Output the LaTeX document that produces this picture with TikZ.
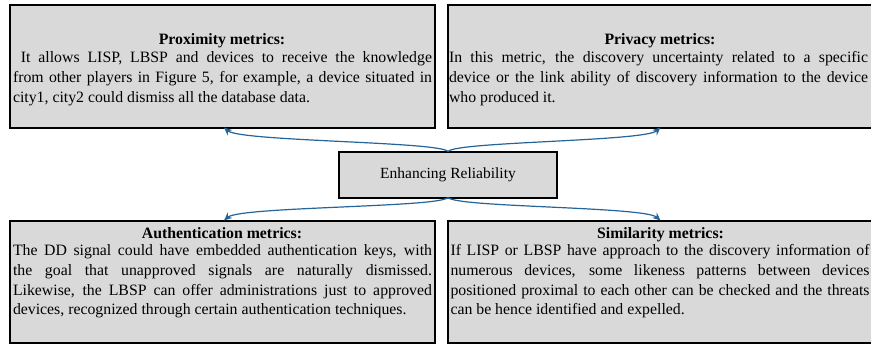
\documentclass[tikz,border=0pt]{standalone}
\usepackage{fontspec}
\setmainfont{Liberation Serif}
\usetikzlibrary{arrows.meta}
\definecolor{boxfill}{RGB}{217,217,217}
\definecolor{linkblue}{RGB}{35,100,155}
\begin{document}
\begin{tikzpicture}[x=1pt,y=-1pt,
  panel/.style={draw=black, line width=2pt, fill=boxfill, inner sep=0pt, outer sep=0pt, anchor=north west,
                minimum width=425pt, minimum height=122pt},
  head/.style={font=\fontsize{15.8}{19.7}\selectfont\bfseries, inner sep=0pt, anchor=base},
  body/.style={text width=419pt, align=justify, font=\fontsize{15.8}{19.7}\selectfont, inner sep=0pt, anchor=north},
  link/.style={draw=linkblue, line width=1.2pt, -{Stealth[length=8pt,width=7pt]}}
]
\useasboundingbox (0,0) rectangle (871,345);
\clip (0,0) rectangle (871,345);

% four metric panels
\node[panel] (prox) at (9.5,5.5) {};
\node[panel] (priv) at (448,5.5) {};
\node[panel] (auth) at (9.5,220.5) {};
\node[panel] (simi) at (448,220.5) {};

% central box
\node[draw=black, line width=2pt, fill=boxfill, inner sep=0pt, outer sep=0pt,
      minimum width=218pt, minimum height=46pt, font=\fontsize{15.5}{18}\selectfont]
      (core) at (448,174.5) {Enhancing Reliability};

% panel texts
\node[head] (proxH) at (222,45) {Proximity metrics:};
\node[body] (proxT) at (222.5,48.7) {\strut\ It allows LISP, LBSP and devices to receive the knowledge\linebreak
  from other players in Figure 5, for example, a device situated in\linebreak
  city1, city2 could dismiss all the database data.};

\node[head] (privH) at (660,45) {Privacy metrics:};
\node[body] (privT) at (658.5,48.7) {\strut In this metric, the discovery uncertainty related to a specific\linebreak
  device or the link ability of discovery information to the device\linebreak
  who produced it.};

\node[head] (authH) at (222,238.5) {Authentication metrics:};
\node[body] (authT) at (222.5,241.7) {\strut The DD signal could have embedded authentication keys, with\linebreak
  the goal that unapproved signals are naturally dismissed.\linebreak
  Likewise, the LBSP can offer administrations just to approved\linebreak
  devices, recognized through certain authentication techniques.};

\node[head] (simiH) at (660.5,238.5) {Similarity metrics:};
\node[body] (simiT) at (660,241.7) {\strut If LISP or LBSP have approach to the discovery information of\linebreak
  numerous devices, some likeness patterns between devices\linebreak
  positioned proximal to each other can be checked and the threats\linebreak
  can be hence identified and expelled.};

% connectors
\draw[link] (core.north) .. controls +(-8,-10) and +(16,14) .. ([xshift=2pt]prox.south);
\draw[link] (core.north) .. controls +(8,-10) and +(-16,14) .. (priv.south);
\draw[link] (core.south) .. controls +(-8,10) and +(16,-14) .. ([xshift=2pt]auth.north);
\draw[link] (core.south) .. controls +(8,10) and +(-16,-14) .. (simi.north);
\end{tikzpicture}
\end{document}
